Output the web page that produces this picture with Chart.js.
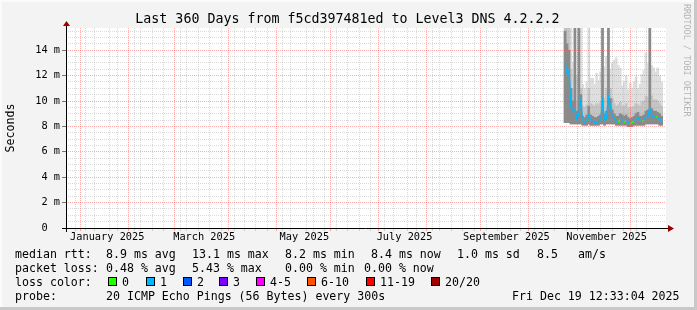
<!DOCTYPE html>
<html>
<head>
<meta charset="utf-8">
<title>Last 360 Days from f5cd397481ed to Level3 DNS 4.2.2.2</title>
<script src="https://cdn.jsdelivr.net/npm/chart.js@4.4.1/dist/chart.umd.min.js"></script>
<style>
    html, body { margin: 0; padding: 0; background: #f3f3f3; }
    #frame {
        position: relative; width: 697px; height: 310px; overflow: hidden;
        background: #f3f3f3;
        box-shadow: inset -3px -3px 0 #c8c8c8, inset 2px 2px 0 #fbfbfb;
        font-family: 'DejaVu Sans Mono', monospace; color: #000;
    }
    #chart { position: absolute; left: 0; top: 0; }
    .title { position: absolute; left: 0; width: 695px; top: 11px; text-align: center; font-size: 13.3px; line-height: 16px; white-space: pre; }
    .mark { position: absolute; left: 682px; top: 4px; width: 10px; writing-mode: vertical-rl; font-size: 8.5px; line-height: 10px; color: #b4b4b4; white-space: pre; }
    .t { position: absolute; white-space: pre; font-size: 11.6px; line-height: 14px; height: 14px; }
    .box { position: absolute; width: 7px; height: 7px; border: 1px solid #000; }
</style>
</head>
<body>
<div id="frame">
    <canvas id="chart" width="697" height="310"></canvas>
    <div class="title">Last 360 Days from f5cd397481ed to Level3 DNS 4.2.2.2</div>
    <div class="mark">RRDTOOL / TOBI OETIKER</div>

    <div class="t" style="left:15px;top:247px">median rtt:</div>
    <div class="t" style="left:106px;top:247px">8.9 ms avg</div>
    <div class="t" style="left:192px;top:247px">13.1 ms max</div>
    <div class="t" style="left:285px;top:247px">8.2 ms min</div>
    <div class="t" style="left:371px;top:247px">8.4 ms now</div>
    <div class="t" style="left:457px;top:247px">1.0 ms sd</div>
    <div class="t" style="left:537px;top:247px">8.5</div>
    <div class="t" style="left:578px;top:247px">am/s</div>

    <div class="t" style="left:15px;top:261px">packet loss:</div>
    <div class="t" style="left:106px;top:261px">0.48 % avg</div>
    <div class="t" style="left:192px;top:261px">5.43 % max</div>
    <div class="t" style="left:285px;top:261px">0.00 % min</div>
    <div class="t" style="left:364px;top:261px">0.00 % now</div>

    <div class="t" style="left:15px;top:275px">loss color:</div>
    <div id="lossKey"></div>

    <div class="t" style="left:15px;top:289px">probe:</div>
    <div class="t" style="left:106px;top:289px">20 ICMP Echo Pings (56 Bytes) every 300s</div>
    <div class="t" style="left:512px;top:289px">Fri Dec 19 12:33:04 2025</div>
</div>
<script>
// time axis is in days since the start of the 360 day window
const DAY_MS = 864e5;
const END = Date.UTC(2025, 11, 19, 12, 33, 4);
const RANGE_DAYS = 360;
const START = END - RANGE_DAYS * DAY_MS;
const dayOf = (y, m, d) => (Date.UTC(y, m, d) - START) / DAY_MS;

// month labels shown under the axis
const monthLabels = ['January 2025', 'March 2025', 'May 2025', 'July 2025', 'September 2025', 'November 2025'];
const labelMonthIdx = [0, 2, 4, 6, 8, 10];

// loss legend
const lossLevels = ['0', '1', '2', '3', '4-5', '6-10', '11-19', '20/20'];
const lossColors = ['#26ff00', '#00b8ff', '#0059ff', '#7e00ff', '#ff00ff', '#ff5500', '#ff0000', '#a10000'];

// samples (one every 1.2 days, from Oct 21 2025 to the end of the window), values in ms
const FIRST_SAMPLE_DAY = 301.2;
const SAMPLE_STEP_DAYS = 1.2;
const median = [13.1, 12.2, 12.4, 9.5, 9.3, 9.2, 8.6, 9.0, 10.0, 8.4,
                8.3, 8.5, 8.9, 8.5, 8.4, 8.3, 8.3, 8.4, 8.5, 9.9,
                8.5, 8.6, 10.3, 9.6, 8.8, 8.6, 8.4, 8.3, 8.6, 8.5,
                8.3, 8.5, 8.3, 8.2, 8.3, 8.4, 8.6, 8.7, 8.4, 8.4,
                8.5, 8.7, 8.8, 9.4, 8.9, 8.7, 8.8, 8.7, 8.6, 8.3];
// index into lossLevels for each sample
const medianLoss = [1, 1, 1, 1, 1, 1, 1, 1, 1, 1,
                    1, 1, 1, 1, 1, 1, 1, 1, 1, 1,
                    1, 1, 1, 1, 1, 1, 1, 0, 1, 1,
                    0, 1, 1, 0, 0, 1, 1, 1, 1, 0,
                    1, 1, 1, 1, 1, 1, 0, 1, 1, 0];
// smoke: fastest ping, and the tops of the light / medium / dark layers
const smokeMin = [8.3, 8.3, 8.3, 8.2, 8.2, 8.2, 8.2, 8.2, 8.2, 8.1,
                  8.1, 8.1, 8.2, 8.1, 8.1, 8.1, 8.1, 8.1, 8.2, 8.2,
                  8.1, 8.2, 8.2, 8.2, 8.2, 8.2, 8.1, 8.1, 8.1, 8.1,
                  8.1, 8.1, 8.0, 8.0, 8.0, 8.1, 8.1, 8.1, 8.1, 8.1,
                  8.1, 8.2, 8.2, 8.2, 8.2, 8.2, 8.2, 8.2, 8.1, 8.1];
const smokeMax = [16, 16, 16, 16, 13.0, 16, 12.0, 16, 16, 11.3,
                  11.0, 11.5, 16, 11.8, 11.8, 11.3, 12.2, 11.6, 12.3, 16,
                  12.7, 13.5, 16, 12.5, 13.0, 13.2, 13.4, 12.8, 12.6, 11.2,
                  11.5, 12.0, 10.9, 11.4, 11.0, 11.5, 11.9, 11.0, 11.3, 12.1,
                  12.4, 13.8, 13.0, 16, 12.8, 12.6, 12.3, 12.6, 12.0, 11.5];
const smokeMid = [16, 16, 16, 12.5, 11.0, 12.0, 10.0, 12.0, 11.0, 9.6,
                  9.5, 9.7, 11.0, 9.8, 9.7, 9.6, 9.8, 9.7, 9.9, 12.0,
                  10.2, 11.0, 12.5, 11.0, 10.2, 9.8, 9.6, 9.7, 9.9, 9.6,
                  9.6, 9.8, 9.4, 9.5, 9.5, 9.6, 9.8, 9.7, 9.6, 9.9,
                  10.0, 10.4, 10.3, 12.0, 10.4, 10.1, 10.1, 10.0, 9.8, 9.6];
const smokeCore = [15.5, 14.5, 14.0, 11.0, 10.0, 16, 9.2, 16, 10.5, 8.8,
                   8.7, 8.9, 9.6, 8.9, 8.8, 8.7, 8.7, 8.8, 8.9, 16,
                   9.0, 9.2, 16, 10.2, 9.3, 9.0, 8.8, 8.8, 9.0, 8.9,
                   8.8, 8.9, 8.7, 8.6, 8.7, 8.8, 9.0, 9.1, 8.8, 8.8,
                   8.9, 9.2, 9.3, 16, 9.4, 9.2, 9.2, 9.1, 9.0, 8.8];

const sampleDays = median.map((_, i) => FIRST_SAMPLE_DAY + i * SAMPLE_STEP_DAYS);

// x grid: weekly minor lines (Sundays), monthly major lines, labels mid-month
const xTicks = [];
for (let d = dayOf(2024, 11, 29); d < RANGE_DAYS; d += 7) xTicks.push({ value: d, kind: 0, label: '' });
for (let m = 0; m < 12; m++) xTicks.push({ value: dayOf(2025, m, 1), kind: 1, label: '' });
labelMonthIdx.forEach((m, i) => xTicks.push({ value: dayOf(2025, m, 1) + 15, kind: 2, label: monthLabels[i] }));
xTicks.sort((a, b) => a.value - b.value || a.kind - b.kind);

// y grid every 0.5 ms, labelled every 2 ms
const yTicks = [];
for (let v = 0; v <= 15.5; v += 0.5) yTicks.push(v);

const MINOR_GRID = 'rgba(150, 150, 150, 0.35)';
const MAJOR_GRID = 'rgba(255, 70, 70, 0.45)';
const tickFont = { family: 'DejaVu Sans Mono', size: 10.3 };

// white plot background, axis lines with the rrdtool arrows
const rrdFrame = {
    id: 'rrdFrame',
    beforeDraw(chart) {
        const { ctx, chartArea: a } = chart;
        ctx.save();
        ctx.fillStyle = '#ffffff';
        ctx.fillRect(a.left, a.top, a.right - a.left, a.bottom - a.top);
        ctx.restore();
    },
    afterDraw(chart) {
        const { ctx, chartArea: a } = chart;
        const ax = a.left + 0.5, ay = a.bottom + 0.5;
        ctx.save();
        ctx.strokeStyle = '#000';
        ctx.lineWidth = 1;
        ctx.beginPath();
        ctx.moveTo(a.left - 4, ay);
        ctx.lineTo(a.right + 3, ay);
        ctx.moveTo(ax, a.bottom + 4);
        ctx.lineTo(ax, a.top - 3);
        ctx.stroke();
        ctx.fillStyle = '#9a0000';
        ctx.beginPath();
        ctx.moveTo(a.right + 8, ay);
        ctx.lineTo(a.right + 2, ay - 3.5);
        ctx.lineTo(a.right + 2, ay + 3.5);
        ctx.closePath();
        ctx.fill();
        ctx.beginPath();
        ctx.moveTo(ax, a.top - 7);
        ctx.lineTo(ax - 3.5, a.top - 2);
        ctx.lineTo(ax + 3.5, a.top - 2);
        ctx.closePath();
        ctx.fill();
        ctx.restore();
    }
};

// all smoke layers share one stack slot so they overlap, 2 px per sample
const band = (tops) => tops.map((top, i) => ({ x: sampleDays[i], y: [smokeMin[i], top] }));
const smokeBar = (label, tops, color, order) => ({
    type: 'bar', label, data: band(tops), stack: 'smoke',
    backgroundColor: color, borderWidth: 0, barThickness: 2,
    clip: 0, order
});

document.addEventListener('DOMContentLoaded', () => {
    // loss colour key
    const lossKeyX = [108, 146, 183, 219, 256, 307, 366, 431];
    const key = document.getElementById('lossKey');
    lossLevels.forEach((lvl, i) => {
        const b = document.createElement('div');
        b.className = 'box';
        b.style.left = lossKeyX[i] + 'px';
        b.style.top = '277px';
        b.style.background = lossColors[i];
        key.appendChild(b);
        const t = document.createElement('div');
        t.className = 't';
        t.style.left = (lossKeyX[i] + 14) + 'px';
        t.style.top = '275px';
        t.textContent = lvl;
        key.appendChild(t);
    });

    const ctx = document.getElementById('chart').getContext('2d');
    new Chart(ctx, {
        type: 'bar',
        data: {
            datasets: [
                {
                    type: 'line', label: 'median rtt',
                    data: median.map((v, i) => ({ x: sampleDays[i], y: v })),
                    borderWidth: 1.5, pointRadius: 0, tension: 0,
                    borderColor: lossColors[1],
                    segment: { borderColor: c => lossColors[medianLoss[c.p0DataIndex]] },
                    clip: 0, order: 0
                },
                smokeBar('smoke core', smokeCore, '#8a8a8a', 1),
                smokeBar('smoke mid', smokeMid, '#c4c4c4', 2),
                smokeBar('smoke', smokeMax, '#dedede', 3)
            ]
        },
        options: {
            responsive: false,
            animation: false,
            layout: { padding: { left: 0, right: 31, top: 28, bottom: 0 } },
            plugins: {
                legend: { display: false },
                tooltip: { enabled: false },
                title: { display: false }
            },
            scales: {
                x: {
                    type: 'linear', min: 0, max: RANGE_DAYS, position: 'bottom',
                    afterBuildTicks: s => { s.ticks = xTicks.map(t => ({ value: t.value })); },
                    ticks: {
                        autoSkip: false, maxRotation: 0, minRotation: 0, padding: 0,
                        font: tickFont, color: '#000',
                        callback: (v, i) => xTicks[i].label
                    },
                    grid: {
                        z: 1, tickLength: 3,
                        color: c => {
                            const t = xTicks[c.index];
                            if (!t || t.kind === 2) return 'transparent';
                            return t.kind === 1 ? MAJOR_GRID : MINOR_GRID;
                        }
                    },
                    border: { display: false, dash: [1, 1] },
                    afterFit: s => { s.height = 82; s.paddingLeft = 0; s.paddingRight = 0; }
                },
                y: {
                    min: 0, max: 15.75, stacked: false,
                    afterBuildTicks: s => { s.ticks = yTicks.map(v => ({ value: v })); },
                    ticks: {
                        autoSkip: false, padding: 2, font: tickFont, color: '#000',
                        callback: v => (v % 2 !== 0 ? '' : (v === 0 ? '0  ' : v + ' m'))
                    },
                    grid: {
                        z: 1, tickLength: 4,
                        color: c => (c.tick && c.tick.value % 2 === 0 ? MAJOR_GRID : MINOR_GRID),
                        tickColor: c => (c.tick && c.tick.value % 2 === 0 ? '#777' : 'transparent')
                    },
                    border: { display: false, dash: [1, 1] },
                    title: {
                        display: true, text: 'Seconds', color: '#000',
                        font: { family: 'DejaVu Sans Mono', size: 11.6 },
                        padding: { top: 4, bottom: 0 }
                    },
                    afterFit: s => { s.width = 66; s.paddingTop = 0; s.paddingBottom = 0; }
                }
            }
        },
        plugins: [rrdFrame]
    });
});
</script>
</body>
</html>
